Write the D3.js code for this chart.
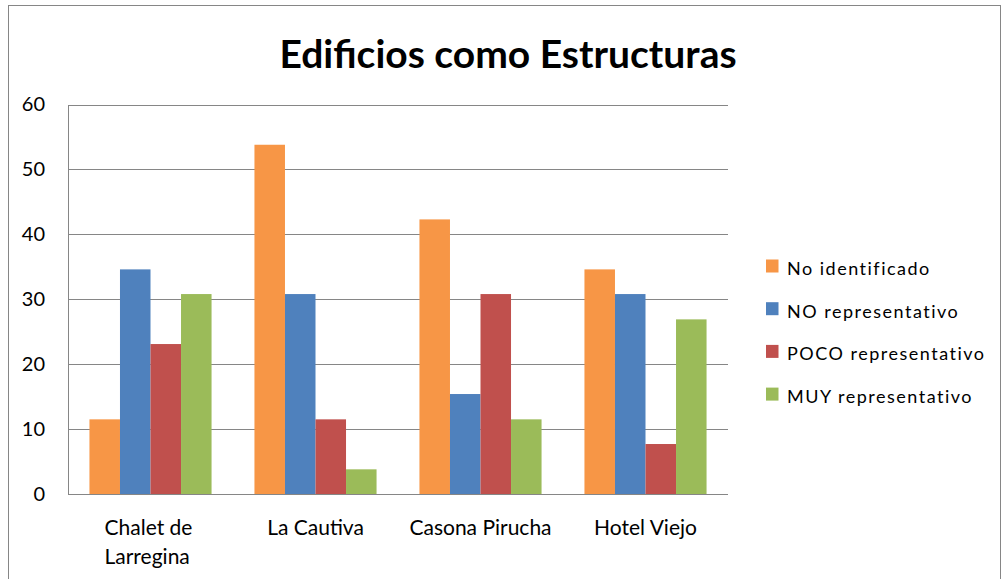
<!DOCTYPE html>
<html lang="es">
<head>
<meta charset="UTF-8">
<title>Edificios como Estructuras</title>
<script src="https://cdnjs.cloudflare.com/ajax/libs/d3/7.8.5/d3.min.js"></script>
<style>
    body { margin: 0; background: #fff; }
    svg text { font-family: Lato, "Open Sans", sans-serif; fill: #000; }
</style>
</head>
<body>
<div id="chart"></div>
<script>
    // Data
    const categories = [["Chalet de", "Larregina"], ["La Cautiva"], ["Casona Pirucha"], ["Hotel Viejo"]];
    const seriesNames = ["No identificado", "NO representativo", "POCO representativo", "MUY representativo"];
    const seriesColors = ["#F79646", "#4F81BD", "#C0504D", "#9BBB59"];
    const noIdentificado = [11.5, 53.8, 42.3, 34.6];
    const noRepresentativo = [34.6, 30.8, 15.4, 30.8];
    const pocoRepresentativo = [23.1, 11.5, 30.8, 7.7];
    const muyRepresentativo = [30.8, 3.8, 11.5, 26.9];
    const yTicks = [0, 10, 20, 30, 40, 50, 60];

    const series = [noIdentificado, noRepresentativo, pocoRepresentativo, muyRepresentativo];

    const width = 1002, height = 579;
    const plot = { left: 68, right: 728, top: 104.5, bottom: 494 };

    const svg = d3.select("#chart").append("svg")
        .attr("width", width)
        .attr("height", height);

    // Chart frame
    svg.append("rect")
        .attr("x", 8.5).attr("y", 5.5)
        .attr("width", 992).attr("height", 600)
        .attr("fill", "none")
        .attr("stroke", "#868686")
        .attr("stroke-width", 1);

    // Title
    svg.append("text")
        .attr("x", 508)
        .attr("y", 68)
        .attr("text-anchor", "middle")
        .attr("font-size", 39)
        .attr("font-weight", "bold")
        .text("Edificios como Estructuras");

    const x0 = d3.scaleBand()
        .domain(d3.range(categories.length))
        .range([plot.left, plot.right])
        .paddingInner(0.26)
        .paddingOuter(0.13);

    const x1 = d3.scaleBand()
        .domain(d3.range(series.length))
        .range([0, x0.bandwidth()]);

    const y = d3.scaleLinear()
        .domain([0, 60])
        .range([plot.bottom, plot.top]);

    // Gridlines
    svg.append("g")
        .selectAll("line")
        .data(yTicks)
        .join("line")
        .attr("x1", plot.left).attr("x2", plot.right)
        .attr("y1", d => Math.round(y(d)) + 0.5)
        .attr("y2", d => Math.round(y(d)) + 0.5)
        .attr("stroke", "#868686")
        .attr("stroke-width", 1);

    // Y axis
    const yAxis = svg.append("g")
        .attr("transform", `translate(${plot.left},0)`)
        .call(d3.axisLeft(y).tickValues(yTicks).tickSize(0).tickPadding(23));
    yAxis.select(".domain").attr("stroke", "#868686");
    yAxis.selectAll("text")
        .attr("font-size", 20)
        .attr("font-family", "Lato, 'Open Sans', sans-serif")
        .attr("fill", "#000");

    // Bars
    const groups = svg.append("g")
        .selectAll("g")
        .data(categories.map((c, i) => i))
        .join("g")
        .attr("transform", i => `translate(${x0(i)},0)`);

    groups.selectAll("rect")
        .data(i => series.map((s, k) => ({ k, v: s[i] })))
        .join("rect")
        .attr("x", d => x1(d.k))
        .attr("width", x1.bandwidth())
        .attr("y", d => y(d.v))
        .attr("height", d => y(0) - y(d.v))
        .attr("fill", d => seriesColors[d.k]);

    // X axis line
    svg.append("line")
        .attr("x1", plot.left).attr("x2", plot.right)
        .attr("y1", Math.round(y(0)) + 0.5).attr("y2", Math.round(y(0)) + 0.5)
        .attr("stroke", "#868686");

    // Category labels
    const catLabels = svg.append("g")
        .selectAll("text")
        .data(categories)
        .join("text")
        .attr("x", (d, i) => x0(i) + x0.bandwidth() / 2)
        .attr("y", 535)
        .attr("text-anchor", (d, i) => i === 0 ? "start" : "middle")
        .attr("font-size", 21);
    catLabels.each(function (lines, i) {
        const t = d3.select(this);
        if (i === 0) t.attr("x", x0(i) + x0.bandwidth() / 2 - 46);
        lines.forEach((ln, j) => {
            t.append("tspan")
                .attr("x", t.attr("x"))
                .attr("dy", j === 0 ? 0 : 29)
                .text(ln);
        });
    });

    // Legend
    const legend = svg.append("g")
        .attr("transform", "translate(766,259.5)");
    const items = legend.selectAll("g")
        .data(seriesNames)
        .join("g")
        .attr("transform", (d, i) => `translate(0,${i * 42.7})`);
    items.append("rect")
        .attr("width", 12.5).attr("height", 13)
        .attr("fill", (d, i) => seriesColors[i]);
    items.append("text")
        .attr("x", 21)
        .attr("y", 15.5)
        .attr("font-size", 18)
        .attr("letter-spacing", 1.5)
        .text(d => d);
</script>
</body>
</html>
